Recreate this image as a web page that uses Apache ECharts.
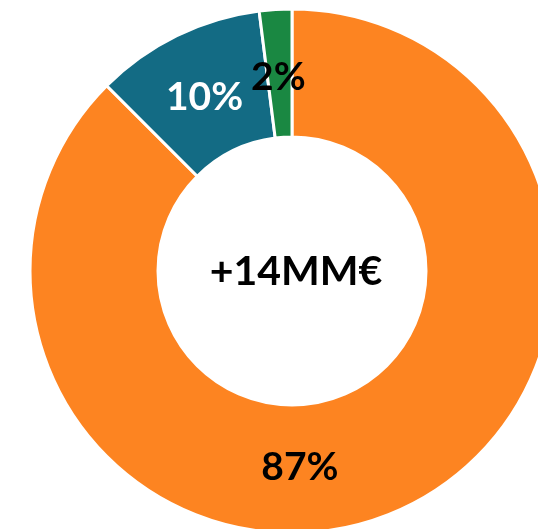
<!DOCTYPE html>
<html>
<head>
<meta charset="utf-8">
<script src="https://cdn.jsdelivr.net/npm/echarts@6/dist/echarts.min.js"></script>
<style>
  html, body { margin: 0; padding: 0; background: #fff; }
  #main { width: 538px; height: 529px; }
</style>
</head>
<body>
<div id="main"></div>
<script>
// shares of the total (clockwise from the top)
var names = ['A', 'B', 'C'];
var values = [87.5, 10.5, 2.0];
var labels = ['87%', '10%', '2%'];
var centerText = '+14MM€';

var colors = ['#fd8421', '#136b84', '#1a8842'];
var labelColors = ['#000', '#fff', '#000'];
// the big label sits near the bottom instead of the slice middle
var labelOffsets = [[-69, 11], [1, 7], [-1, 7]];

var myChart = echarts.init(document.getElementById('main'));

var data = [];
for (var i = 0; i < values.length; i++) {
    data.push({
        name: names[i],
        value: values[i],
        itemStyle: { color: colors[i] },
        label: { color: labelColors[i], offset: labelOffsets[i], formatter: labels[i] }
    });
}

var option = {
    animation: false,
    graphic: [{
        type: 'text',
        x: 296,
        y: 272,
        style: {
            text: centerText,
            fontFamily: 'Lato',
            fontWeight: 'bold',
            fontSize: 41,
            fill: '#000',
            textAlign: 'center',
            textVerticalAlign: 'middle'
        }
    }],
    series: [{
        type: 'pie',
        center: [292, 271],
        radius: [134, 262],
        startAngle: 90,
        clockwise: true,
        avoidLabelOverlap: false,
        emphasis: { disabled: true },
        itemStyle: { borderColor: '#fff', borderWidth: 3 },
        label: {
            show: true,
            position: 'inside',
            fontFamily: 'Lato',
            fontWeight: 'bold',
            fontSize: 39
        },
        labelLine: { show: false },
        data: data
    }]
};
myChart.setOption(option);
</script>
</body>
</html>
